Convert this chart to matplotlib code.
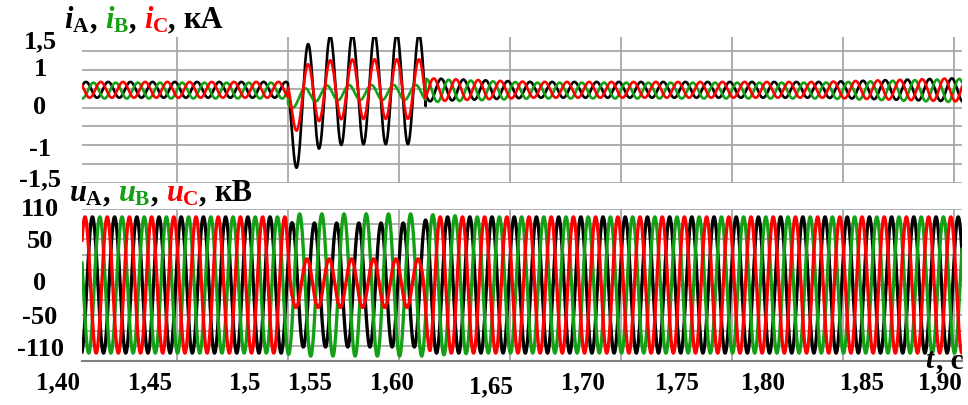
import numpy as np
import matplotlib
matplotlib.use("Agg")
import matplotlib.pyplot as plt
from matplotlib.offsetbox import TextArea, HPacker, AnchoredOffsetbox

plt.rcParams["mathtext.fontset"] = "custom"
plt.rcParams["mathtext.rm"] = "Liberation Serif:bold"
plt.rcParams["mathtext.it"] = "Liberation Serif:italic:bold"
plt.rcParams["mathtext.bf"] = "Liberation Serif:bold"

# ---------- data ----------
# time in s (grid every 0.1 s), 50 Hz network
t_start, t_end = 0.1144, 0.9072
freq = 50.0
fault_on, fault_off = 0.300, 0.424

phase_colors = ["#000000", "#14a014", "#ff0000"]  # A, B, C

# currents, kA
i_center = [0.47, 0.45, 0.47]
i_peak_normal = [0.318, 0.3247, 0.3113]        # time of a peak, steady state
env_t = [t_start, 0.300, 0.424, 0.450, 0.520, 0.780, t_end]
i_env = [0.21, 0.21, 0.31, 0.28, 0.21, 0.21, 0.31]
# fault state
i_fault_center = [0.49, 0.40, 0.49]
i_fault_amp = [1.46, 0.20, 0.79]
i_fault_peak = [0.318, 0.315, 0.318]
i_fault_dc = [-1.2, -0.3, -0.6]
dc_tau = 0.012

# voltages, kV
u_peak = [0.12379, 0.13045, 0.11712]
u_env_t = [t_start, 0.298, 0.304, 0.420, 0.428, 0.470, t_end]
u_env = [
    [112, 112, 102, 102, 112, 112, 112],
    [112, 112, 117, 117, 116, 112, 112],
    [112, 112, 40, 40, 112, 112, 112],
]
u_fault_center = [0, 0, 3]

# axis labels
x_ticklabels = ["1,40", "1,45", "1,5", "1,55", "1,60", "1,65", "1,70",
                "1,75", "1,80", "1,85", "1,90"]
x_label_px = [58, 150, 245, 310, 392, 491, 583, 677, 763, 862, 940]
x_label_py = [383, 383, 383, 383, 383, 387, 383, 383, 383, 383, 383]
i_ticklabels = ["1,5", "1", "0", "-1", "-1,5"]
i_label_py = [42, 70, 108, 150, 180]
u_ticklabels = ["110", "50", "0", "-50", "-110"]
u_label_py = [210, 241, 284, 318, 350]

# ---------- signals ----------
t = np.linspace(t_start, t_end, 30000)
w = 2 * np.pi * freq
in_fault = (t >= fault_on) & (t < fault_off)

currents = []
for k in range(3):
    normal = i_center[k] + np.interp(t, env_t, i_env) * np.cos(w * (t - i_peak_normal[k]))
    dc = i_fault_dc[k] * np.exp(-(t - fault_on) / dc_tau)
    fault = i_fault_center[k] + i_fault_amp[k] * np.cos(w * (t - i_fault_peak[k])) + dc
    currents.append(np.where(in_fault, fault, normal))

voltages = []
for k in range(3):
    amp = np.interp(t, u_env_t, u_env[k])
    center = np.where(in_fault, u_fault_center[k], 0)
    voltages.append(center + amp * np.cos(w * (t - u_peak[k])))

# ---------- figure ----------
W, H = 968, 405
fig = plt.figure(figsize=(W / 100, H / 100), dpi=100)
ax_i = fig.add_axes([82 / W, 1 - 183 / H, 880 / W, 146 / H])
ax_u = fig.add_axes([82 / W, 1 - 361 / H, 880 / W, 152 / H])

grid_kw = dict(color="#a8a8a8", lw=1.3, zorder=0)
for ax in (ax_i, ax_u):
    ax.set_xlim(t_start, t_end)
    for s in ax.spines.values():
        s.set_visible(False)
    ax.set_xticks([])
    ax.set_yticks([])
    for x in np.arange(0.2, 0.95, 0.1):
        ax.axvline(x, **grid_kw)

ax_i.set_ylim(-2.0, 1.87)
for y in np.arange(-2.0, 1.6, 0.5):
    ax_i.axhline(y, **grid_kw)

ax_u.set_ylim(-125, 125)
for y in np.arange(-125, 126, 25):
    ax_u.axhline(y, **grid_kw)
ax_u.spines["bottom"].set_visible(True)
ax_u.spines["bottom"].set_color("#808080")
ax_u.spines["bottom"].set_linewidth(1.5)

for k in range(3):
    ax_i.plot(t, currents[k], color=phase_colors[k], lw=1.9, zorder=2 + k)
    ax_u.plot(t, voltages[k], color=phase_colors[k], lw=2.4, zorder=2 + k)

# ---------- texts ----------
font = dict(family="Liberation Serif", weight="bold")


def ftext(px, py, s, size, **kw):
    fig.text(px / W, 1 - py / H, s, fontsize=size, ha="center", va="center", **font, **kw)


for s, px, py in zip(x_ticklabels, x_label_px, x_label_py):
    ftext(px, py, s, 18)
for s, py in zip(i_ticklabels, i_label_py):
    ftext(40, py, s, 19)
for s, py in zip(u_ticklabels, u_label_py):
    ftext(40, py, s, 19)


def title(px, py, sym, unit, size):
    parts = []
    for k, ph in enumerate("ABC"):
        parts.append(TextArea(rf"${sym}_{{\mathrm{{{ph}}}}}$",
                              textprops=dict(color=phase_colors[k], fontsize=size)))
        parts.append(TextArea(", ", textprops=dict(color="black", fontsize=size, **font)))
    parts.append(TextArea(unit, textprops=dict(color="black", fontsize=size, **font)))
    box = HPacker(children=parts, align="baseline", pad=0, sep=0)
    ab = AnchoredOffsetbox(loc="center left", child=box, frameon=False, pad=0, borderpad=0,
                           bbox_to_anchor=(px / W, 1 - py / H),
                           bbox_transform=fig.transFigure)
    fig.add_artist(ab)


title(64, 20, "i", "кА", 22)
title(69, 193, "u", "кВ", 22)

# t, с
tbox = HPacker(children=[TextArea(r"$t$", textprops=dict(fontsize=21)),
                         TextArea(", с", textprops=dict(fontsize=21, **font))],
               align="baseline", pad=0, sep=0)
fig.add_artist(AnchoredOffsetbox(loc="center right", child=tbox, frameon=False, pad=0,
                                 borderpad=0, bbox_to_anchor=(963 / W, 1 - 360 / H),
                                 bbox_transform=fig.transFigure))

fig.savefig("out.png", dpi=100)
